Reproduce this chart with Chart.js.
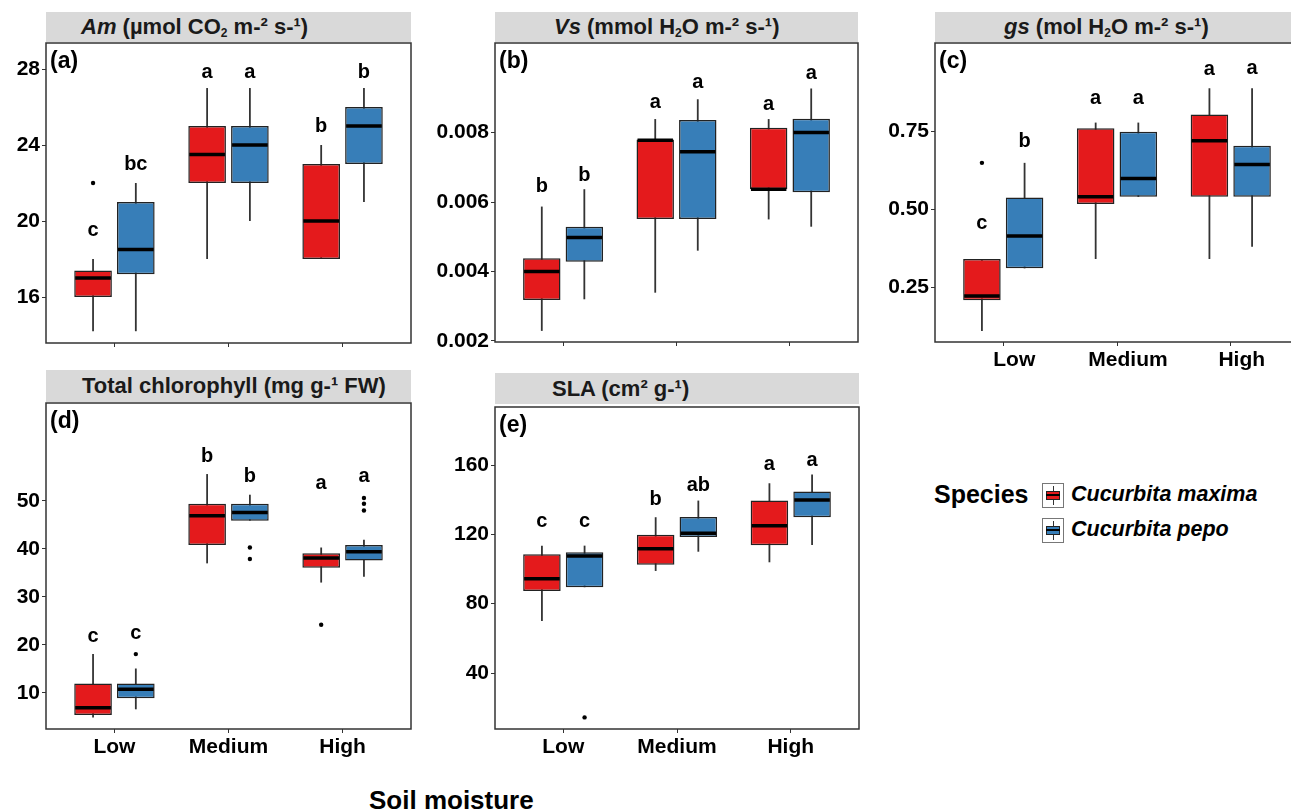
<!DOCTYPE html>
<html>
<head>
<meta charset="utf-8">
<script src="https://cdn.jsdelivr.net/npm/chart.js@4.4.1/dist/chart.umd.min.js"></script>
<style>
  html, body { margin: 0; padding: 0; width: 1291px; height: 812px; overflow: hidden; background: #fff; }
  body { position: relative; font-family: "Liberation Sans", Arial, sans-serif; color: #000; }
  canvas { position: absolute; }
  .strip { position: absolute; background: #d9d9d9; font-weight: bold; font-size: 22px; color: #1a1a1a;
           white-space: nowrap; box-sizing: border-box; }
  .strip sub { font-size: 12px; vertical-align: -3px; }
  .lab { position: absolute; font-weight: bold; white-space: nowrap; }
  .key { position: absolute; width: 20px; height: 23px; border: 1px solid #777; background: #fff; }
  .key .wh { position: absolute; left: 10px; top: 2px; width: 1px; height: 19px; background: #333; }
  .key .bx { position: absolute; left: 3px; top: 7px; width: 12px; height: 7px; border: 1px solid #222; }
  .key .md { position: absolute; left: 3px; top: 10px; width: 14px; height: 2px; background: #000; }
</style>
</head>
<body>
<div class="strip" style="left:46px;top:12px;width:365px;height:30px;line-height:30px;padding-left:35px"><i>Am</i> (µmol CO<sub>2</sub> m-² s-¹)</div>
<div class="strip" style="left:495px;top:12px;width:363px;height:30px;line-height:30px;padding-left:59px"><i>Vs</i> (mmol H<sub>2</sub>O m-² s-¹)</div>
<div class="strip" style="left:935px;top:12px;width:364px;height:30px;line-height:30px;padding-left:69px"><i>gs</i> (mol H<sub>2</sub>O m-² s-¹)</div>
<div class="strip" style="left:46px;top:370px;width:365px;height:32px;line-height:32px;padding-left:36px">Total chlorophyll (mg g-¹ FW)</div>
<div class="strip" style="left:495px;top:373px;width:364px;height:31px;line-height:31px;padding-left:57px">SLA (cm² g-¹)</div>

<canvas id="pa" width="420" height="318" style="left:0px;top:40px"></canvas>
<canvas id="pb" width="445" height="317" style="left:420px;top:40px"></canvas>
<canvas id="pc" width="450" height="338" style="left:860px;top:40px"></canvas>
<canvas id="pd" width="420" height="365" style="left:0px;top:400px"></canvas>
<canvas id="pe" width="445" height="361" style="left:420px;top:404px"></canvas>

<div id="legend"></div>
<div class="lab" style="left:369px;top:785px;font-size:26px">Soil moisture</div>

<script>
/* --- dados --- */
const GROUPS  = ['Low', 'Medium', 'High'];
const SPECIES = ['Cucurbita maxima', 'Cucurbita pepo'];
const FILL    = ['#e41a1c', '#377eb8'];

/* cada caixa: [bigode inferior, Q1, mediana, Q3, bigode superior] para Low, Medium, High */

/* (a) Am */
const amMaxima   = [[14.2, 16.0, 17.0, 17.4, 18.0], [18.0, 22.0, 23.5, 25.0, 27.0], [18.0, 18.0, 20.0, 23.0, 24.0]];
const amPepo     = [[14.2, 17.2, 18.5, 21.0, 22.0], [20.0, 22.0, 24.0, 25.0, 27.0], [21.0, 23.0, 25.0, 26.0, 27.0]];
const amOutliers = [[[22.0], [], []], [[], [], []]];
const amLetters  = [['c', 'a', 'b'], ['bc', 'a', 'b']];
const amLetterY  = [[19.5, 27.8, 25.0], [23.0, 27.8, 27.8]];
const amTicks    = [16, 20, 24, 28];

/* (b) Vs */
const vsMaxima   = [[0.00229, 0.00318, 0.0040, 0.00438, 0.00587], [0.00339, 0.00551, 0.00778, 0.0078, 0.00839], [0.0055, 0.00637, 0.00637, 0.00814, 0.00839]];
const vsPepo     = [[0.0032, 0.00428, 0.00498, 0.00529, 0.00637], [0.0046, 0.00551, 0.00745, 0.00836, 0.00896], [0.00529, 0.00628, 0.0080, 0.0084, 0.00927]];
const vsOutliers = [[[], [], []], [[], [], []]];
const vsLetters  = [['b', 'a', 'a'], ['b', 'a', 'a']];
const vsLetterY  = [[0.00644, 0.00886, 0.00881], [0.00676, 0.00943, 0.0097]];
const vsTicks    = [0.002, 0.004, 0.006, 0.008];

/* (c) gs */
const gsMaxima   = [[0.109, 0.208, 0.221, 0.34, 0.34], [0.34, 0.516, 0.539, 0.759, 0.777], [0.34, 0.539, 0.719, 0.803, 0.887]];
const gsPepo     = [[0.31, 0.31, 0.414, 0.537, 0.648], [0.539, 0.539, 0.598, 0.748, 0.777], [0.379, 0.539, 0.643, 0.703, 0.887]];
const gsOutliers = [[[0.648], [], []], [[], [], []]];
const gsLetters  = [['c', 'a', 'a'], ['b', 'a', 'a']];
const gsLetterY  = [[0.454, 0.853, 0.946], [0.716, 0.853, 0.951]];
const gsTicks    = [0.25, 0.50, 0.75];

/* (d) clorofila total */
const chlMaxima   = [[4.9, 5.4, 6.9, 12.0, 18.1], [37.0, 40.8, 46.9, 49.4, 55.6], [33.0, 36.1, 38.1, 39.1, 40.3]];
const chlPepo     = [[6.6, 8.9, 10.8, 12.0, 15.1], [45.9, 45.9, 47.6, 49.4, 51.3], [34.2, 37.6, 39.4, 40.8, 41.9]];
const chlOutliers = [[[], [], [24.2]], [[18.1], [40.3, 37.9], [50.6, 49.4, 48.0]]];
const chlLetters  = [['c', 'b', 'a'], ['c', 'b', 'a']];
const chlLetterY  = [[21.7, 59.2, 53.7], [22.4, 55.1, 55.1]];
const chlTicks    = [10, 20, 30, 40, 50];

/* (e) SLA */
const slaMaxima   = [[70.0, 87.3, 94.4, 108.5, 113.5], [98.9, 102.5, 111.7, 119.8, 129.9], [103.9, 113.7, 125.0, 139.5, 149.5]];
const slaPepo     = [[89.5, 89.5, 107.5, 109.7, 113.5], [110.0, 118.5, 120.6, 130.0, 139.5], [113.9, 129.9, 139.9, 144.7, 154.5]];
const slaOutliers = [[[], [], []], [[14.4], [], []]];
const slaLetters  = [['c', 'b', 'a'], ['c', 'ab', 'a']];
const slaLetterY  = [[127.3, 140.3, 160.1], [127.3, 148.5, 162.4]];
const slaTicks    = [40, 80, 120, 160];

const FONT = '"Liberation Sans", Arial, sans-serif';

/* --- bigodes, medianas, outliers, letras e moldura --- */
const boxplotExtras = {
  id: 'boxplotExtras',
  beforeDatasetsDraw(chart) {
    const { ctx } = chart;
    const y = chart.scales.y;
    chart.data.datasets.forEach((ds, d) => {
      chart.getDatasetMeta(d).data.forEach((bar, i) => {
        const s = ds.stats[i];
        ctx.save();
        ctx.strokeStyle = '#333';
        ctx.lineWidth = 1.8;
        ctx.beginPath();
        ctx.moveTo(bar.x, y.getPixelForValue(s[0]));
        ctx.lineTo(bar.x, y.getPixelForValue(s[4]));
        ctx.stroke();
        ctx.restore();
      });
    });
  },
  afterDatasetsDraw(chart) {
    const { ctx } = chart;
    const y = chart.scales.y;
    chart.data.datasets.forEach((ds, d) => {
      chart.getDatasetMeta(d).data.forEach((bar, i) => {
        const s = ds.stats[i];
        const half = bar.width / 2;
        ctx.save();
        /* mediana */
        ctx.strokeStyle = '#000';
        ctx.lineWidth = 3.5;
        ctx.beginPath();
        ctx.moveTo(bar.x - half + 1, y.getPixelForValue(s[2]));
        ctx.lineTo(bar.x + half - 1, y.getPixelForValue(s[2]));
        ctx.stroke();
        /* outliers */
        ctx.fillStyle = '#000';
        ds.outliers[i].forEach(v => {
          ctx.beginPath();
          ctx.arc(bar.x, y.getPixelForValue(v), 2.2, 0, Math.PI * 2);
          ctx.fill();
        });
        /* letras */
        ctx.font = `bold 20px ${FONT}`;
        ctx.textAlign = 'center';
        ctx.textBaseline = 'middle';
        ctx.fillText(ds.letters[i], bar.x, y.getPixelForValue(ds.letterY[i]));
        ctx.restore();
      });
    });
  },
  afterDraw(chart, args, opts) {
    const { ctx, chartArea: a } = chart;
    ctx.save();
    ctx.strokeStyle = '#333';
    ctx.lineWidth = 1.5;
    ctx.strokeRect(a.left, a.top, a.right - a.left, a.bottom - a.top);
    ctx.font = `bold 23px ${FONT}`;
    ctx.fillStyle = '#000';
    ctx.textBaseline = 'middle';
    ctx.fillText(opts.tag, a.left + 4, a.top + 19);
    ctx.restore();
  },
};

function makePanel(p) {
  return new Chart(document.getElementById(p.id), {
    type: 'bar',
    data: {
      datasets: p.stats.map((st, s) => ({
        label: SPECIES[s],
        data: st.map((v, i) => ({ x: i, y: [v[1], v[3]] })),
        stats: st,
        outliers: p.outliers[s],
        letters: p.letters[s],
        letterY: p.letterY[s],
        backgroundColor: FILL[s],
        borderColor: '#222',
        borderWidth: 1.5,
        borderSkipped: false,
        categoryPercentage: 0.75,
        barPercentage: 0.88,
      })),
    },
    options: {
      responsive: false,
      animation: false,
      devicePixelRatio: 1,
      layout: { padding: { top: p.padTop, right: p.padRight, left: 0, bottom: 0 } },
      plugins: {
        legend: { display: false },
        tooltip: { enabled: false },
        boxplotExtras: { tag: p.tag },
      },
      scales: {
        x: {
          type: 'linear',
          min: -0.6,
          max: 2.6,
          offset: false,
          afterBuildTicks: sc => { sc.ticks = GROUPS.map((g, i) => ({ value: i })); },
          afterFit: sc => { sc.height = p.xH; sc.paddingLeft = 0; sc.paddingRight = 0; },
          grid: { drawOnChartArea: false, drawTicks: true, tickLength: 4, color: '#333', offset: false },
          border: { display: false },
          ticks: {
            display: p.xLabels,
            callback: v => GROUPS[v],
            font: { family: FONT, size: 21, weight: 'bold' },
            color: '#000',
            padding: 2,
            maxRotation: 0,
            autoSkip: false,
            labelOffset: p.labelOffset,
          },
        },
        y: {
          min: p.min,
          max: p.max,
          afterBuildTicks: sc => { sc.ticks = p.ticks.map(v => ({ value: v })); },
          afterFit: sc => { sc.width = p.yW; sc.paddingTop = 0; sc.paddingBottom = 0; },
          grid: { drawOnChartArea: false, tickLength: 4, color: '#333' },
          border: { display: false },
          ticks: {
            callback: v => v.toFixed(p.digits),
            font: { family: FONT, size: 21, weight: 'bold' },
            color: '#000',
            padding: 2,
          },
        },
      },
    },
    plugins: [boxplotExtras],
  });
}

makePanel({ id: 'pa', tag: '(a)', stats: [amMaxima, amPepo], outliers: amOutliers, letters: amLetters, letterY: amLetterY,
  ticks: amTicks, digits: 0, min: 13.58, max: 29.37, yW: 46, xH: 15, padTop: 3, padRight: 9, xLabels: false, labelOffset: 0 });
makePanel({ id: 'pb', tag: '(b)', stats: [vsMaxima, vsPepo], outliers: vsOutliers, letters: vsLetters, letterY: vsLetterY,
  ticks: vsTicks, digits: 3, min: 0.00197, max: 0.01058, yW: 75, xH: 15, padTop: 3, padRight: 7, xLabels: false, labelOffset: 0 });
makePanel({ id: 'pc', tag: '(c)', stats: [gsMaxima, gsPepo], outliers: gsOutliers, letters: gsLetters, letterY: gsLetterY,
  ticks: gsTicks, digits: 2, min: 0.074, max: 1.032, yW: 75, xH: 36, padTop: 3, padRight: 11, xLabels: true, labelOffset: 11 });
makePanel({ id: 'pd', tag: '(d)', stats: [chlMaxima, chlPepo], outliers: chlOutliers, letters: chlLetters, letterY: chlLetterY,
  ticks: chlTicks, digits: 0, min: 2.5, max: 70.4, yW: 46, xH: 36, padTop: 3, padRight: 9, xLabels: true, labelOffset: 0 });
makePanel({ id: 'pe', tag: '(e)', stats: [slaMaxima, slaPepo], outliers: slaOutliers, letters: slaLetters, letterY: slaLetterY,
  ticks: slaTicks, digits: 0, min: 7.7, max: 193.5, yW: 75, xH: 36, padTop: 3, padRight: 6, xLabels: true, labelOffset: 0 });

/* --- legenda --- */
const legend = document.getElementById('legend');
legend.innerHTML =
  `<div class="lab" style="left:934px;top:480px;font-size:25px">Species</div>` +
  SPECIES.map((name, i) => `
    <div class="key" style="left:1042px;top:${483 + i * 35}px">
      <i class="wh"></i><i class="bx" style="background:${FILL[i]}"></i><i class="md"></i>
    </div>
    <div class="lab" style="left:1071px;top:${482 + i * 35}px;font-size:21.5px;font-style:italic">${name}</div>`
  ).join('');
</script>
</body>
</html>
